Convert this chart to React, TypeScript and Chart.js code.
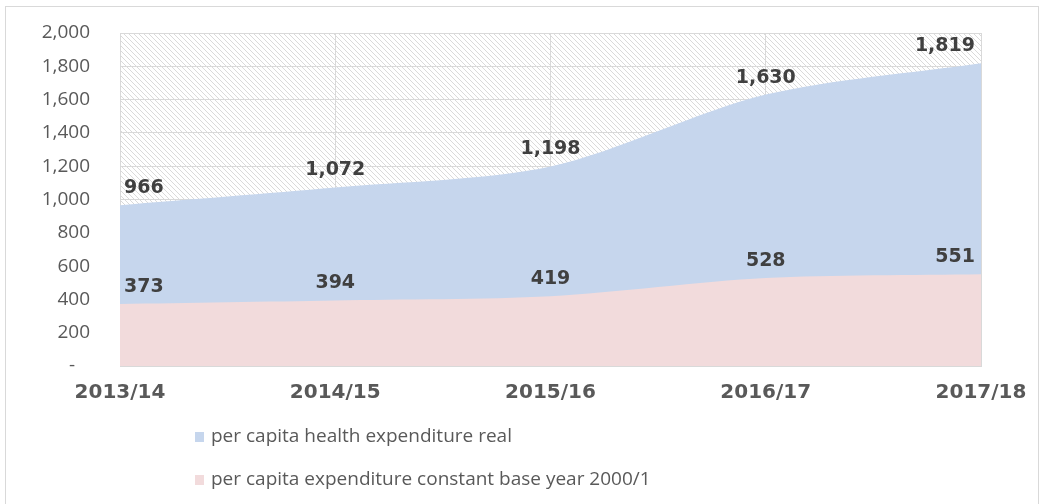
import React, { useEffect, useRef } from 'react';
import { Chart, registerables } from 'chart.js';

Chart.register(...registerables);

const categories = ['2013/14', '2014/15', '2015/16', '2016/17', '2017/18'];
const realValues = [966, 1072, 1198, 1630, 1819];
const constantValues = [373, 394, 419, 528, 551];
const seriesLabels = [
  'per capita health expenditure real',
  'per capita expenditure constant base year 2000/1',
];
const seriesColors = ['#c6d6ed', '#f2dbdc'];

const fmt = (v: number) => v.toLocaleString('en-US');

function makeHatch(ctx: CanvasRenderingContext2D) {
  const c = document.createElement('canvas');
  c.width = 5;
  c.height = 5;
  const g = c.getContext('2d')!;
  g.fillStyle = '#ffffff';
  g.fillRect(0, 0, 5, 5);
  g.strokeStyle = '#dadada';
  g.lineWidth = 1;
  g.beginPath();
  g.moveTo(-1, -1);
  g.lineTo(6, 6);
  g.moveTo(-1, 4);
  g.lineTo(1, 6);
  g.moveTo(4, -1);
  g.lineTo(6, 1);
  g.stroke();
  return ctx.createPattern(c, 'repeat');
}

const hatchPlugin = {
  id: 'hatchBg',
  beforeDraw(chart: any) {
    const { ctx, chartArea } = chart;
    const p = makeHatch(ctx);
    if (!p) return;
    ctx.save();
    ctx.fillStyle = p;
    ctx.fillRect(chartArea.left, chartArea.top, chartArea.right - chartArea.left, chartArea.bottom - chartArea.top);
    ctx.restore();
  },
};

const labelPlugin = {
  id: 'valueLabels',
  afterDatasetsDraw(chart: any) {
    const { ctx, chartArea } = chart;
    ctx.save();
    ctx.font = 'bold 19px "DejaVu Sans"';
    ctx.fillStyle = '#404040';
    ctx.textAlign = 'center';
    ctx.textBaseline = 'middle';
    chart.data.datasets.forEach((ds: any, i: number) => {
      const meta = chart.getDatasetMeta(i);
      meta.data.forEach((pt: any, j: number) => {
        const text = fmt(ds.data[j]);
        const w = ctx.measureText(text).width;
        let x = pt.x;
        x = Math.max(x, chartArea.left + w / 2 + 4);
        x = Math.min(x, chartArea.right - w / 2 - 6);
        ctx.fillText(text, x, pt.y - 17);
      });
    });
    ctx.restore();
  },
};

const legendPlugin = {
  id: 'stackLegend',
  afterDraw(chart: any) {
    const { ctx } = chart;
    ctx.save();
    ctx.font = '19px "Open Sans"';
    ctx.textBaseline = 'middle';
    ctx.textAlign = 'left';
    const ys = [437, 480];
    seriesLabels.forEach((lab, i) => {
      ctx.fillStyle = seriesColors[i];
      ctx.fillRect(195, ys[i] - 5, 9, 10);
      ctx.fillStyle = '#595959';
      ctx.fillText(lab, 211, ys[i]);
    });
    ctx.restore();
  },
};

export default function App() {
  const ref = useRef<HTMLCanvasElement>(null);
  useEffect(() => {
    if (!ref.current) return;
    const chart = new Chart(ref.current, {
      type: 'line',
      data: {
        labels: categories,
        datasets: [
          {
            label: seriesLabels[0],
            data: realValues,
            backgroundColor: seriesColors[0],
            borderWidth: 0,
            pointRadius: 0,
            fill: 'origin',
            tension: 0.3,
            order: 2,
          },
          {
            label: seriesLabels[1],
            data: constantValues,
            backgroundColor: seriesColors[1],
            borderWidth: 0,
            pointRadius: 0,
            fill: 'origin',
            tension: 0.3,
            order: 1,
          },
        ],
      },
      options: {
        responsive: false,
        animation: false,
        layout: { padding: { top: 33, right: 68, bottom: 0, left: 0 } },
        plugins: { legend: { display: false }, tooltip: { enabled: false } },
        scales: {
          x: {
            offset: false,
            grid: { color: '#d9d9d9', drawTicks: false },
            border: { color: '#d9d9d9' },
            ticks: {
              padding: 15,
              color: '#595959',
              font: { family: '"DejaVu Sans"', size: 20, weight: 'bold' },
              maxRotation: 0,
            },
            afterFit: (s: any) => {
              s.height = 138;
            },
          },
          y: {
            min: 0,
            max: 2000,
            grid: { color: '#d9d9d9', drawTicks: false },
            border: { color: '#d9d9d9' },
            ticks: {
              stepSize: 200,
              padding: 30,
              color: '#595959',
              font: { family: '"Open Sans"', size: 19 },
              callback: (v: any) => (Number(v) === 0 ? '-   ' : fmt(Number(v))),
            },
            afterFit: (s: any) => {
              s.width = 120;
              s.paddingTop = 0;
              s.paddingBottom = 0;
            },
          },
        },
      },
      plugins: [hatchPlugin, labelPlugin, legendPlugin],
    });
    return () => chart.destroy();
  }, []);

  return (
    <div
      style={{
        position: 'fixed',
        left: 0,
        top: 0,
        width: 1049,
        height: 504,
        background: '#ffffff',
        overflow: 'hidden',
      }}
    >
      <div
        style={{
          position: 'absolute',
          left: 5,
          top: 6,
          width: 1034,
          height: 540,
          border: '1px solid #d9d9d9',
          boxSizing: 'border-box',
        }}
      />
      <canvas ref={ref} width={1049} height={504} style={{ position: 'absolute', left: 0, top: 0 }} />
    </div>
  );
}
